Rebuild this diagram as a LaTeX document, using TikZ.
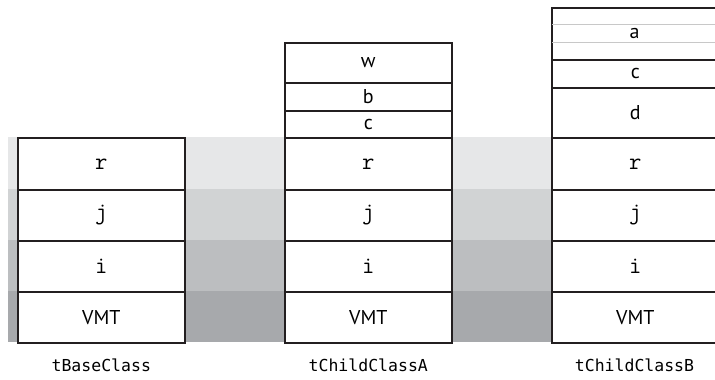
\documentclass[tikz,border=0pt]{standalone}
\usepackage{fontspec}
\setmainfont{PT Sans}
\newfontfamily\classmono{DejaVu Sans Mono}
\usepackage{tikz}
\usetikzlibrary{positioning}
\definecolor{inkblack}{RGB}{35,31,32}
\definecolor{bandr}{RGB}{230,231,232}
\definecolor{bandj}{RGB}{209,211,212}
\definecolor{bandi}{RGB}{188,190,192}
\definecolor{bandv}{RGB}{167,169,172}
\definecolor{sepgrey}{RGB}{200,200,200}
\tikzset{
  cell/.style={rectangle, anchor=north west, draw=inkblack, fill=white, line width=1.6pt, minimum width=167pt, inner sep=0pt, font=\fontsize{20}{20}\selectfont},
  fld/.style={cell, font=\ttfamily\fontsize{24}{24}\selectfont},
  wide/.style={minimum width=175pt},
  band/.style={fill=#1},
  sep/.style={draw=sepgrey, line width=1.3pt},
  cname/.style={font=\classmono\fontsize{16.5}{16.5}\selectfont, inner sep=0pt},
}

\begin{document}
\begin{tikzpicture}[x=1pt,y=-1pt]
  \useasboundingbox (0,0) rectangle (715,380);
  % shaded rows behind the three objects
  \fill[band=bandr] (8,137) rectangle (715,189);
  \fill[band=bandj] (8,189) rectangle (715,240);
  \fill[band=bandi] (8,240) rectangle (715,291);
  \fill[band=bandv] (8,291) rectangle (715,342);

  % tBaseClass
  \node[fld,minimum height=52pt] (r0) at (17,137) {r};
  \node[fld,minimum height=51pt] (j0) at (17,189) {j};
  \node[fld,minimum height=51pt] (i0) at (17,240) {i};
  \node[cell,minimum height=51pt] (vmt0) at (17,291) {VMT};

  % tChildClassA
  \node[cell,minimum height=40pt] (wA) at (284,42) {w};
  \node[cell,minimum height=28pt] (bA) at (284,82) {b};
  \node[cell,minimum height=28pt] (cA) at (284,110) {c};
  \node[fld,minimum height=52pt] (rA) at (284,137) {r};
  \node[fld,minimum height=51pt] (jA) at (284,189) {j};
  \node[fld,minimum height=51pt] (iA) at (284,240) {i};
  \node[cell,minimum height=51pt] (vmtA) at (284,291) {VMT};

  % tChildClassB (runs off the right edge)
  \node[cell,wide,minimum height=52pt] (aB) at (551,7) {};
  \draw[sep] ([xshift=0.8pt,yshift=9pt]aB.west) -- ([yshift=9pt]aB.east);
  \draw[sep] ([xshift=0.8pt,yshift=-9pt]aB.west) -- ([yshift=-9pt]aB.east);
  \node[font=\fontsize{20}{20}\selectfont,inner sep=0pt] (aBtxt) at (634.5,33) {a};
  \node[cell,wide,minimum height=28pt] (cB) at (551,59) {\hspace*{-8pt}c};
  \node[cell,wide,minimum height=50pt] (dB) at (551,87) {\hspace*{-8pt}d};
  \node[fld,wide,minimum height=52pt] (rB) at (551,137) {\hspace*{-8pt}r};
  \node[fld,wide,minimum height=51pt] (jB) at (551,189) {\hspace*{-8pt}j};
  \node[fld,wide,minimum height=51pt] (iB) at (551,240) {\hspace*{-8pt}i};
  \node[cell,wide,minimum height=51pt] (vmtB) at (551,291) {\hspace*{-8pt}VMT};

  % class names
  \node[cname,below=15pt of vmt0] (nbase) {tBaseClass};
  \node[cname,below=15pt of vmtA] (nchildA) {tChildClassA};
  \node[cname] (nchildB) at (nchildA -| aBtxt) {tChildClassB};
\end{tikzpicture}
\end{document}
